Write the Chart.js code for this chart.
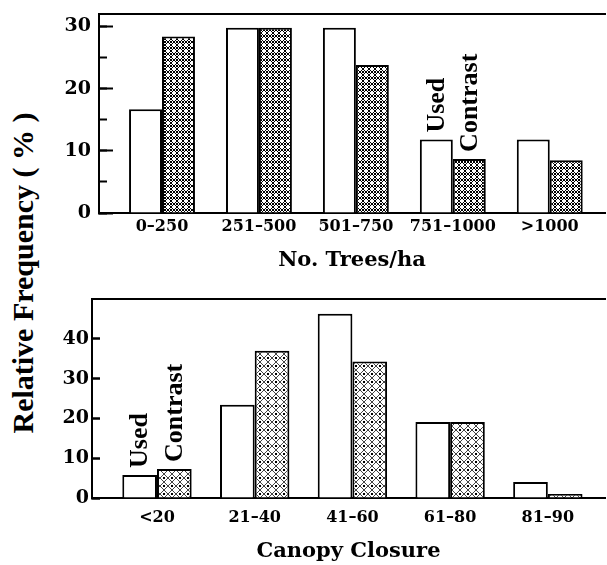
<!DOCTYPE html>
<html>
<head>
<meta charset="utf-8">
<script src="https://cdn.jsdelivr.net/npm/chart.js@4.4.1/dist/chart.umd.min.js"></script>
<style>
html, body { margin: 0; padding: 0; background: #fff; }
#wrap { position: relative; width: 607px; height: 565px; overflow: hidden; }
#topBox { position: absolute; left: 0; top: 0; width: 607px; height: 278px; }
#bottomBox { position: absolute; left: 0; top: 278px; width: 607px; height: 287px; }
#yTitle { position: absolute; left: 23px; top: 273px; transform: translate(-50%, -50%) rotate(-90deg);
  white-space: nowrap; font: bold 30px "Liberation Serif", serif; color: #000; }
</style>
</head>
<body>
<div id="wrap">
  <div id="yTitle">Relative Frequency ( % )</div>
  <div id="topBox"><canvas id="treesChart"></canvas></div>
  <div id="bottomBox"><canvas id="canopyChart"></canvas></div>
</div>
<script>
// data
const treeCategories = ['0\u2013250', '251\u2013500', '501\u2013750', '751\u20131000', '>1000'];
const treeUsed = [16.7, 29.8, 29.8, 11.8, 11.8];
const treeContrast = [28.4, 29.8, 23.8, 8.7, 8.5];

const canopyCategories = ['<20', '21\u201340', '41\u201360', '61\u201380', '81\u201390'];
const canopyUsed = [5.8, 23.4, 46.3, 19.1, 4.0];
const canopyContrast = [7.3, 37.0, 34.3, 19.1, 1.0];

const seriesNames = ['Used', 'Contrast'];
const treeTicks = [0, 10, 20, 30];
const canopyTicks = [0, 10, 20, 30, 40];

const hFont = '"DejaVu Serif", serif';
const vFont = '"Liberation Serif", serif';

function makeHatch(size, lineColor, dots) {
    const c = document.createElement('canvas');
    c.width = size; c.height = size;
    const g = c.getContext('2d');
    g.fillStyle = '#fff';
    g.fillRect(0, 0, size, size);
    g.strokeStyle = lineColor;
    g.lineWidth = 1;
    g.beginPath();
    g.moveTo(0, 0); g.lineTo(size, size);
    g.moveTo(size, 0); g.lineTo(0, size);
    g.stroke();
    if (dots) {
        g.fillStyle = '#000';
        g.fillRect(size / 2 - 1, 0, 2, 1);
        g.fillRect(size / 2 - 1, size - 1, 2, 1);
    }
    return g.createPattern(c, 'repeat');
}

// vertical "Used" / "Contrast" notes above one pair of bars
const barNotes = {
    id: 'barNotes',
    afterDatasetsDraw(chart, args, opts) {
        const ctx = chart.ctx;
        ctx.save();
        ctx.fillStyle = '#000';
        ctx.font = 'bold 26px ' + vFont;
        ctx.textAlign = 'left';
        ctx.textBaseline = 'middle';
        chart.data.datasets.forEach((ds, d) => {
            const bar = chart.getDatasetMeta(d).data[opts.index];
            ctx.save();
            ctx.translate(bar.x, bar.y - 7);
            ctx.rotate(-Math.PI / 2);
            ctx.fillText(ds.label, 0, 1);
            ctx.restore();
        });
        ctx.restore();
    }
};

function buildChart(canvasId, cfg) {
    const toPoints = arr => arr.map((v, i) => ({ x: i, y: v }));
    return new Chart(document.getElementById(canvasId), {
        type: 'bar',
        data: {
            datasets: [
                { label: seriesNames[0], data: toPoints(cfg.used), backgroundColor: '#fff', borderColor: '#000', borderWidth: 2, xAxisID: 'x', yAxisID: 'y' },
                { label: seriesNames[1], data: toPoints(cfg.contrast), backgroundColor: cfg.pattern, borderColor: '#000', borderWidth: 2, xAxisID: 'x', yAxisID: 'y' }
            ]
        },
        options: {
            responsive: true,
            maintainAspectRatio: false,
            animation: false,
            barPercentage: 1,
            categoryPercentage: cfg.groupWidth,
            layout: { padding: { top: cfg.top, right: 2, left: 0, bottom: 0 } },
            plugins: { legend: { display: false }, tooltip: { enabled: false }, barNotes: { index: cfg.noteIndex } },
            scales: {
                x: {
                    type: 'linear', position: 'bottom', min: cfg.xMin, max: cfg.xMax, offset: false,
                    afterBuildTicks: s => { s.ticks = cfg.categories.map((c, i) => ({ value: i })); },
                    afterFit: s => { s.height = cfg.xHeight; s.paddingLeft = 0; s.paddingRight = 0; },
                    grid: { display: false, drawTicks: false, offset: false },
                    border: { display: true, color: '#000', width: 2 },
                    ticks: { color: '#000', autoSkip: false, maxRotation: 0, padding: cfg.xPad,
                        font: { family: hFont, size: 16, weight: 'bold' },
                        callback: v => cfg.categories[v] },
                    title: { display: true, text: cfg.xTitle, color: '#000', padding: { top: 0, bottom: cfg.titlePad },
                        font: { family: hFont, size: 21, weight: 'bold', lineHeight: 1 } }
                },
                xTop: {
                    type: 'linear', position: 'top', min: cfg.xMin, max: cfg.xMax, offset: false,
                    afterFit: s => { s.height = 0; s.paddingLeft = 0; s.paddingRight = 0; },
                    grid: { display: false, drawTicks: false, offset: false },
                    border: { display: true, color: '#000', width: 2 },
                    ticks: { display: false }
                },
                y: {
                    type: 'linear', position: 'left', weight: 1, min: 0, max: cfg.yMax,
                    afterBuildTicks: s => { s.ticks = cfg.minorTicks.map(v => ({ value: v })); },
                    afterFit: s => { s.width = cfg.yWidth; s.paddingTop = 0; s.paddingBottom = 0; },
                    grid: { drawOnChartArea: false, tickLength: -8, tickColor: '#000', tickWidth: 2 },
                    border: { display: true, color: '#000', width: 2 },
                    ticks: { color: '#000', padding: cfg.yPad,
                        font: { family: hFont, size: 19, weight: 'bold' },
                        callback: v => (cfg.labelTicks.includes(v) ? String(v) : '') }
                },
                yMajor: {
                    type: 'linear', position: 'left', weight: 0, min: 0, max: cfg.yMax,
                    afterBuildTicks: s => { s.ticks = cfg.labelTicks.map(v => ({ value: v })); },
                    afterFit: s => { s.width = 0; s.paddingTop = 0; s.paddingBottom = 0; },
                    grid: { drawOnChartArea: false, tickLength: -cfg.majorLen, tickColor: '#000', tickWidth: 2 },
                    border: { display: false },
                    ticks: { display: false }
                }
            }
        },
        plugins: [barNotes]
    });
}

buildChart('treesChart', {
    categories: treeCategories, used: treeUsed, contrast: treeContrast,
    pattern: makeHatch(6, '#000', true), groupWidth: 0.68,
    xMin: -0.65, xMax: 4.57, yMax: 32, top: 14, xHeight: 65, yWidth: 99,
    xPad: 4, yPad: 16, titlePad: 7, majorLen: 14,
    labelTicks: treeTicks, minorTicks: [0, 5, 10, 15, 20, 25, 30],
    xTitle: 'No. Trees/ha', noteIndex: 3
});

buildChart('canopyChart', {
    categories: canopyCategories, used: canopyUsed, contrast: canopyContrast,
    pattern: makeHatch(8, '#444', true), groupWidth: 0.71,
    xMin: -0.665, xMax: 4.585, yMax: 50, top: 21, xHeight: 67, yWidth: 92,
    xPad: 10, yPad: 11, titlePad: 3, majorLen: 8,
    labelTicks: canopyTicks, minorTicks: canopyTicks,
    xTitle: 'Canopy Closure', noteIndex: 0
});
</script>
</body>
</html>
